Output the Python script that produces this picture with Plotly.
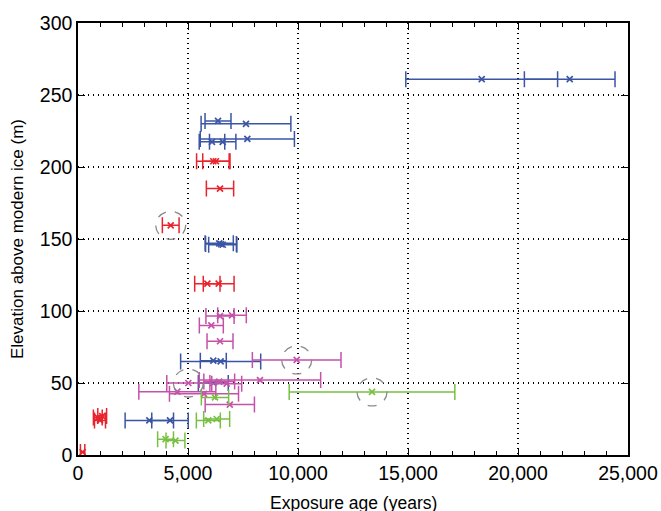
import plotly.graph_objects as go

# ---- data ----
blue_x = [18350, 22350, 6364, 7636, 7697, 6090, 6577, 6420, 6580, 6500, 6485, 6150, 6150, 3242, 4182]
blue_y = [261, 261, 232, 230, 219.5, 217.5, 217.5, 147, 146, 146.5, 65, 65.5, 50, 24, 24]
blue_err = [3450, 2060, 590, 2040, 2140, 580, 600, 640, 640, 700, 1820, 590, 680, 1100, 830]

red_x = [6150, 6270, 6455, 4214, 5879, 6394, 900, 1000, 1100, 210]
red_y = [204, 204, 185, 159.5, 119, 119, 26, 24, 27, 2]
red_err = [760, 600, 620, 380, 575, 700, 200, 250, 200, 100]

mag_x = [6455, 7000, 6060, 6455, 9940, 5015, 6420, 6760, 8270, 4515, 5727, 6900]
mag_y = [96.5, 97, 90, 79, 66, 50, 51, 49.5, 52, 44, 42.5, 35]
mag_err = [640, 650, 545, 590, 2015, 980, 700, 680, 2760, 1750, 1570, 1120]

green_x = [13364, 6227, 5924, 6303, 3980, 4430]
green_y = [43.8, 40, 24, 25, 11, 10]
green_err = [3764, 620, 545, 590, 360, 430]

# outliers marked with dashed circles
circle_x = [4214, 9940, 5015, 13364]
circle_y = [159.5, 66, 50, 43.8]

x_ticks = [0, 5000, 10000, 15000, 20000, 25000]
x_labels = ["0", "5,000", "10,000", "15,000", "20,000", "25,000"]
y_ticks = [0, 50, 100, 150, 200, 250, 300]

series = [
    (blue_x, blue_y, blue_err, "#3b55a5"),
    (mag_x, mag_y, mag_err, "#c452a8"),
    (green_x, green_y, green_err, "#78c043"),
    (red_x, red_y, red_err, "#e8232c"),
]

fig = go.Figure()
for xs, ys, es, c in series:
    fig.add_trace(go.Scatter(
        x=xs, y=ys, mode="markers",
        marker=dict(symbol="x-thin", size=6, color=c, line=dict(width=1.7, color=c)),
        error_x=dict(type="data", array=es, symmetric=True, color=c, thickness=1.5, width=8),
        showlegend=False, hoverinfo="skip",
    ))

shapes = []
for cx, cy in zip(circle_x, circle_y):
    shapes.append(dict(
        type="circle", xref="x", yref="y", xsizemode="pixel", ysizemode="pixel",
        xanchor=cx, yanchor=cy, x0=-15, x1=15, y0=-14, y1=14,
        line=dict(color="#8a8a8a", width=1.3, dash="dash"),
    ))

axis_common = dict(
    showline=True, linecolor="black", linewidth=1.5, mirror="allticks",
    ticks="inside", ticklen=7, tickwidth=1.3, tickcolor="black",
    showgrid=True, gridcolor="black", gridwidth=1.6, griddash="1px,4px",
    zeroline=False, tickfont=dict(size=19.5, color="black"), automargin=False,
)

fig.update_layout(
    width=661, height=511,
    margin=dict(l=78, r=33, t=23, b=56),
    paper_bgcolor="white", plot_bgcolor="white",
    font=dict(family="Liberation Sans, Arial, sans-serif", size=17, color="black"),
    shapes=shapes,
    annotations=[dict(
        text="Exposure age (years)", xref="paper", yref="paper",
        x=0.5, y=-0.111, xanchor="center", yanchor="middle",
        showarrow=False, font=dict(size=17.5, color="black"),
    )],
    xaxis=dict(
        range=[0, 25000], tickvals=x_ticks, ticktext=x_labels,
        minor=dict(dtick=1000, ticks="inside", ticklen=4, tickcolor="black", showgrid=False),
        **axis_common,
    ),
    yaxis=dict(
        range=[0, 300], tickvals=y_ticks,
        title=dict(text="Elevation above modern ice (m)", standoff=12, font=dict(size=17)),
        **axis_common,
    ),
)

fig.write_html(
    "out.html",
    config={"displayModeBar": False},
    post_script="document.body.style.margin='0';document.body.style.overflow='hidden';",
)
